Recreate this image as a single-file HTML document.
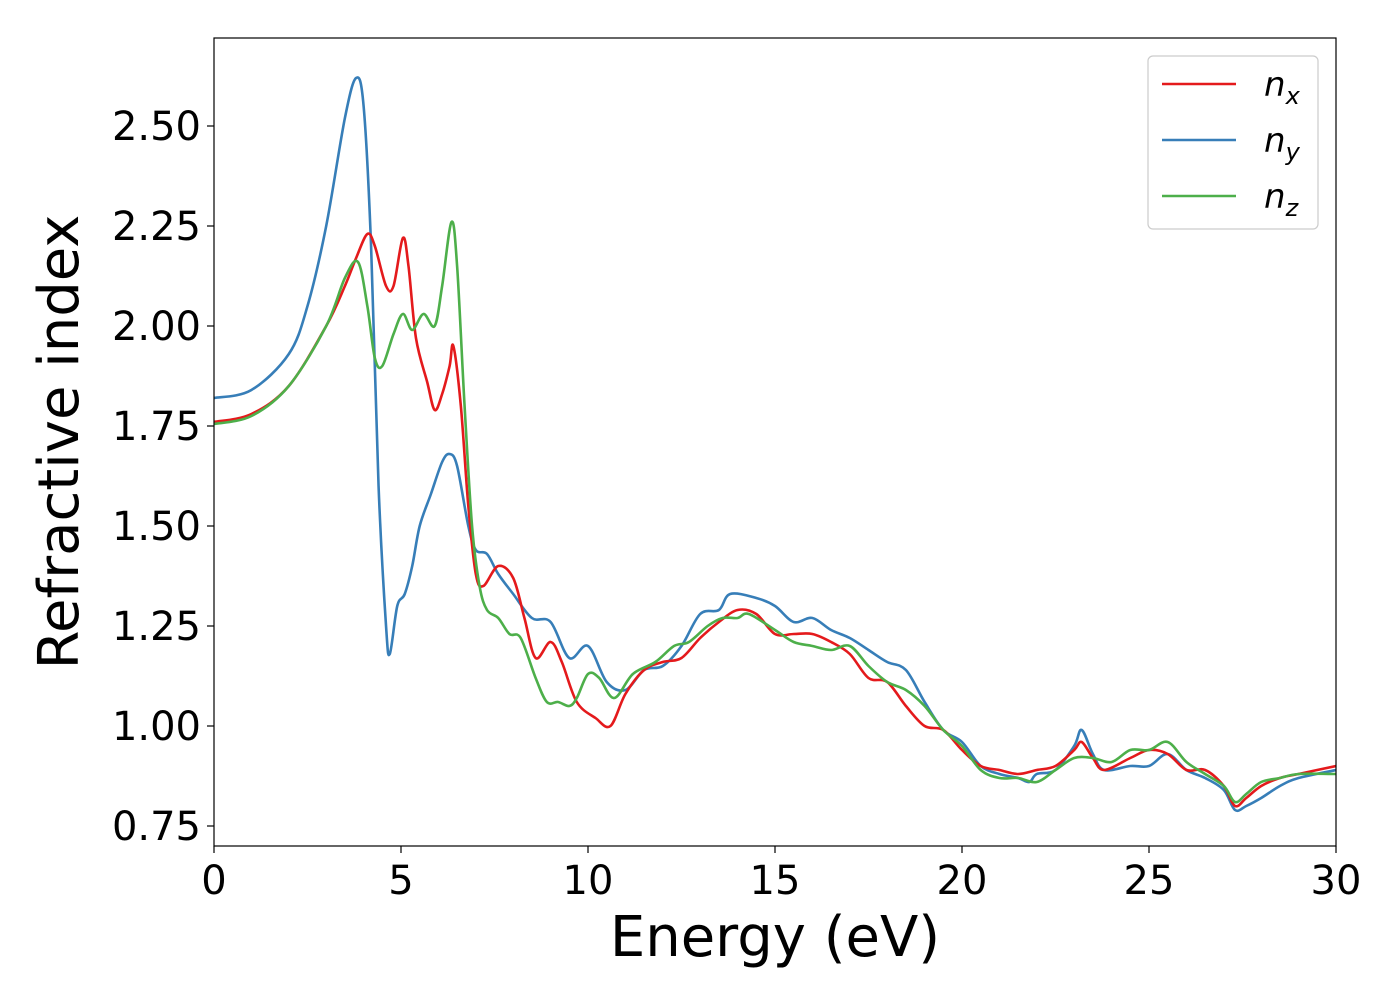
<!DOCTYPE html>
<html><head><meta charset="utf-8"><style>
html,body{margin:0;padding:0;background:#fff;}
svg{display:block;font-family:"DejaVu Sans","Liberation Sans",sans-serif;}
</style></head><body>
<svg id="chart" width="1400" height="1000"></svg>
<script>
const nxE=[0,1,2,3,3.5,3.8,4.1,4.3,4.6,4.8,5.05,5.2,5.4,5.7,5.9,6.1,6.3,6.4,6.6,6.8,7.0,7.2,7.6,8,8.3,8.6,9,9.3,9.7,10.2,10.6,11,11.5,12,12.5,13,13.5,14,14.5,15,15.5,16,16.5,17,17.5,18,18.5,19,19.5,20,20.5,21,21.5,22,22.5,23,23.2,23.5,23.8,24.5,25,25.5,26,26.5,27,27.3,27.6,28,28.5,29,30];
const nxV=[1.76,1.78,1.85,2.00,2.10,2.17,2.23,2.20,2.10,2.10,2.22,2.15,1.97,1.86,1.79,1.83,1.90,1.95,1.80,1.55,1.38,1.35,1.40,1.37,1.27,1.17,1.21,1.16,1.06,1.02,1.00,1.08,1.14,1.16,1.17,1.22,1.26,1.29,1.28,1.23,1.23,1.23,1.21,1.18,1.12,1.11,1.05,1.00,0.99,0.94,0.90,0.89,0.88,0.89,0.90,0.94,0.96,0.92,0.89,0.92,0.94,0.93,0.89,0.89,0.85,0.80,0.82,0.85,0.87,0.88,0.90];
const nyE=[0,1,2,2.5,3,3.5,3.8,4.0,4.2,4.4,4.6,4.7,4.9,5.1,5.3,5.5,5.8,6.1,6.3,6.5,6.8,7.0,7.3,7.6,8,8.5,9,9.5,10,10.5,11,11.5,12,12.5,13,13.5,13.8,14.5,15,15.5,16,16.5,17,17.5,18,18.5,19,19.5,20,20.5,21,21.5,21.8,22,22.5,23,23.2,23.5,23.8,24.5,25,25.5,26,26.5,27,27.3,27.6,28,28.5,29,30];
const nyV=[1.82,1.84,1.93,2.05,2.25,2.52,2.62,2.55,2.20,1.60,1.25,1.18,1.30,1.33,1.40,1.50,1.58,1.66,1.68,1.65,1.50,1.44,1.43,1.38,1.33,1.27,1.26,1.17,1.20,1.11,1.09,1.14,1.15,1.20,1.28,1.29,1.33,1.32,1.30,1.26,1.27,1.24,1.22,1.19,1.16,1.14,1.06,0.99,0.96,0.90,0.88,0.87,0.86,0.88,0.89,0.95,0.99,0.93,0.89,0.90,0.90,0.93,0.89,0.87,0.84,0.79,0.80,0.82,0.85,0.87,0.89];
const nzE=[0,1,2,3,3.5,3.85,4.1,4.3,4.5,4.8,5.05,5.3,5.6,5.9,6.1,6.35,6.5,6.7,6.9,7.1,7.3,7.6,7.9,8.2,8.6,8.9,9.2,9.5,9.7,10,10.3,10.7,11.2,11.8,12.3,12.7,13.2,13.6,14,14.3,15,15.5,16,16.5,17,17.5,18,18.5,19,19.5,20,20.5,21,21.5,22,22.5,23,23.5,24,24.5,25,25.5,26,26.5,27,27.3,27.6,28,28.5,29,30];
const nzV=[1.755,1.775,1.85,2.00,2.12,2.16,2.05,1.92,1.90,1.98,2.03,1.99,2.03,2.00,2.10,2.26,2.15,1.80,1.50,1.35,1.29,1.27,1.23,1.22,1.12,1.06,1.06,1.05,1.07,1.13,1.12,1.07,1.13,1.16,1.20,1.21,1.25,1.27,1.27,1.28,1.24,1.21,1.20,1.19,1.20,1.15,1.11,1.09,1.05,0.99,0.95,0.89,0.87,0.87,0.86,0.89,0.92,0.92,0.91,0.94,0.94,0.96,0.91,0.88,0.85,0.81,0.83,0.86,0.87,0.88,0.88];
const xTicks=[0,5,10,15,20,25,30];
const yTicks=[0.75,1.00,1.25,1.50,1.75,2.00,2.25,2.50];

const NS="http://www.w3.org/2000/svg";
const svg=document.getElementById('chart');
const L=214,R=1336,T=38,B=846;
const xS=v=>L+(v-0)/30*(R-L);
const yS=v=>726-(v-1)*400;
function mk(tag,attrs,parent){const e=document.createElementNS(NS,tag);for(const k in attrs)e.setAttribute(k,attrs[k]);(parent||svg).appendChild(e);return e;}

const defs=mk('defs',{});
const cp=mk('clipPath',{id:'clip'},defs);
mk('rect',{x:L,y:T,width:R-L,height:B-T},cp);

function line(E,V,color,name){
  let d='';
  for(let i=0;i<E.length;i++){
    const x=xS(E[i]),y=yS(V[i]);
    if(i===0){d+='M'+x+','+y;continue;}
    const p0=i>1?[xS(E[i-2]),yS(V[i-2])]:[xS(E[i-1]),yS(V[i-1])];
    const p1=[xS(E[i-1]),yS(V[i-1])];
    const p2=[x,y];
    const p3=i<E.length-1?[xS(E[i+1]),yS(V[i+1])]:p2;
    const c1=[p1[0]+(p2[0]-p0[0])/6,p1[1]+(p2[1]-p0[1])/6];
    const c2=[p2[0]-(p3[0]-p1[0])/6,p2[1]-(p3[1]-p1[1])/6];
    d+=' C'+c1[0]+','+c1[1]+' '+c2[0]+','+c2[1]+' '+p2[0]+','+p2[1];
  }
  const p=mk('path',{d:d,fill:'none',stroke:color,'stroke-width':2.6,'clip-path':'url(#clip)'});
  
  
}
line(nyE,nyV,'#377eb8','series-ny');
line(nxE,nxV,'#e41a1c','series-nx');
line(nzE,nzV,'#4daf4a','series-nz');

const frame=mk('rect',{x:L,y:T,width:R-L,height:B-T,fill:'none',stroke:'#000','stroke-width':1.2});



xTicks.forEach(t=>{
  const x=xS(t);
  mk('line',{x1:x,x2:x,y1:B,y2:B+7,stroke:'#000','stroke-width':1.2});
  const tx=mk('text',{x:x,y:B+48,'text-anchor':'middle','font-size':40});
  tx.textContent=t;
  
  
});
yTicks.forEach(t=>{
  const y=yS(t);
  mk('line',{x1:L-7,x2:L,y1:y,y2:y,stroke:'#000','stroke-width':1.2});
  const tx=mk('text',{x:L-13,y:y+14,'text-anchor':'end','font-size':40});
  tx.textContent=t.toFixed(2);
  
  
});
const xt=mk('text',{x:(L+R)/2,y:956,'text-anchor':'middle','font-size':56});
xt.textContent='Energy (eV)';


const yt=mk('text',{x:0,y:0,'text-anchor':'middle','font-size':56,transform:'translate(78,442) rotate(-90)'});
yt.textContent='Refractive index';



const lg=mk('g',{});


mk('rect',{x:1148,y:56,width:170,height:173,rx:5,fill:'#fff',stroke:'#ccc','stroke-width':1.2},lg);
const leg=[['#e41a1c','x',84],['#377eb8','y',140],['#4daf4a','z',196]];
leg.forEach(l=>{
  const g=mk('g',{},lg);
  
  
  mk('line',{x1:1162,x2:1236,y1:l[2],y2:l[2],stroke:l[0],'stroke-width':2.6},g);
  const t=mk('text',{x:1264,y:l[2]+12,'font-size':34,'font-style':'italic'},g);
  t.textContent='n';
  const s=mk('tspan',{'font-size':24,dy:8},t);
  s.textContent=l[1];
});
</script>
</body></html>
